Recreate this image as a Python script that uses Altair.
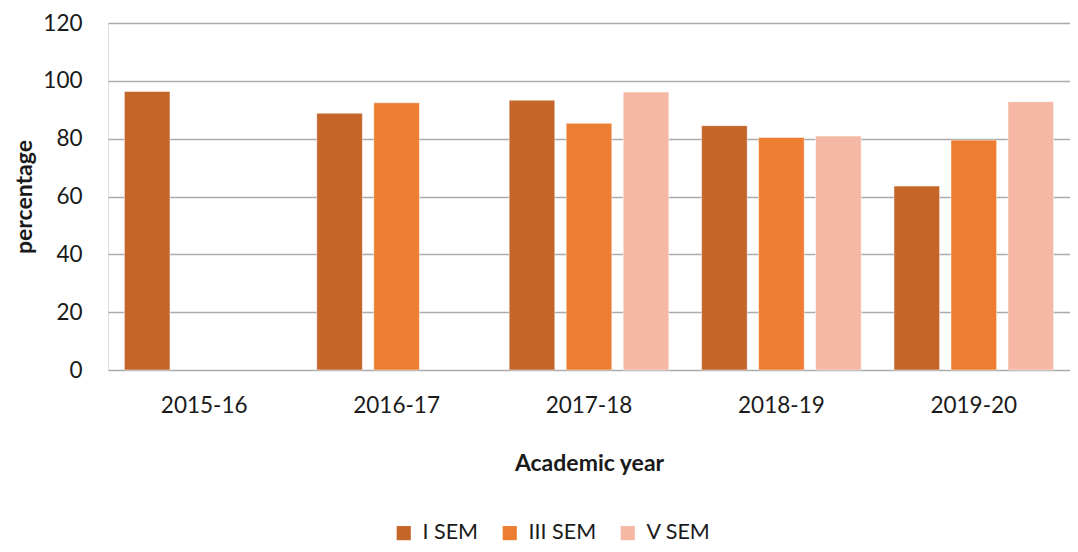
import altair as alt
import pandas as pd

years = ["2015-16", "2016-17", "2017-18", "2018-19", "2019-20"]
series = ["I SEM", "III SEM", "V SEM"]
i_sem = [96.3, 88.8, 93.3, 84.5, 63.6]
iii_sem = [None, 92.4, 85.3, 80.4, 79.5]
v_sem = [None, None, 96.1, 80.9, 92.8]
colors = ["#C4652A", "#ED7D31", "#F4B8A4"]

rows = []
for s, vals in zip(series, [i_sem, iii_sem, v_sem]):
    for y, v in zip(years, vals):
        if v is not None:
            rows.append({"year": y, "sem": s, "value": v})
df = pd.DataFrame(rows)

font = "Lato"
txt = "#1a1a1a"

chart = alt.Chart(df).mark_bar(stroke="#ffffff", strokeWidth=0.8, strokeOpacity=0.6).encode(
    x=alt.X("year:N", sort=years,
            scale=alt.Scale(paddingInner=0.111, paddingOuter=0.0555),
            axis=alt.Axis(title="Academic year", labelAngle=0, ticks=False, domain=False,
                          labelFontSize=22.5, labelPadding=24, labelFont=font, labelColor=txt,
                          titleFont=font, titleFontSize=23, titleFontWeight="bold",
                          titleColor=txt, titlePadding=36)),
    xOffset=alt.XOffset("sem:N", sort=series,
                        scale=alt.Scale(paddingInner=0.2, paddingOuter=0.1)),
    y=alt.Y("value:Q", scale=alt.Scale(domain=[0, 120]),
            axis=alt.Axis(title="percentage", values=[0, 20, 40, 60, 80, 100, 120],
                          ticks=False, domain=False, grid=True, gridColor="#ABABAB",
                          gridWidth=1.3, labelFontSize=22.5, labelPadding=26, labelFont=font,
                          labelColor=txt, titleFont=font, titleFontSize=23,
                          titleFontWeight="bold", titleColor=txt, titlePadding=6)),
    color=alt.Color("sem:N", sort=series,
                    scale=alt.Scale(domain=series, range=colors),
                    legend=alt.Legend(title=None, orient="none", direction="horizontal",
                                      legendX=285, legendY=499, symbolType="square",
                                      symbolSize=200, symbolStrokeWidth=0,
                                      labelFontSize=21.5, labelFont=font, labelColor=txt,
                                      columnPadding=20, symbolOffset=0, labelOffset=8)),
).properties(
    width=962, height=347,
    autosize=alt.AutoSizeParams(type="none"),
    padding={"left": 100, "top": 15, "right": 0, "bottom": 174},
).configure_view(stroke=None).configure(background="white")

chart.save("out.html", embed_options={"renderer": "svg", "actions": False})
